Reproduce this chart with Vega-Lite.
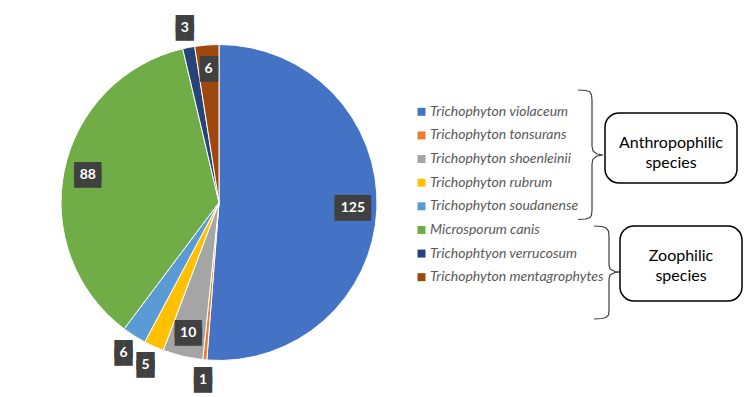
{
  "$schema": "https://vega.github.io/schema/vega-lite/v6.json",
  "padding": {"top": 4, "left": 0, "right": 0, "bottom": 0},
  "bounds": "flush",
  "spacing": 0,
  "config": {"view": {"stroke": null}, "concat": {"spacing": 0}},
  "datasets": {
    "pie": [
      {"species": "Trichophyton violaceum", "count": 125, "n": 1},
      {"species": "Trichophyton tonsurans", "count": 1, "n": 2},
      {"species": "Trichophyton shoenleinii", "count": 10, "n": 3},
      {"species": "Trichophyton rubrum", "count": 5, "n": 4},
      {"species": "Trichophyton soudanense", "count": 6, "n": 5},
      {"species": "Microsporum canis", "count": 88, "n": 6},
      {"species": "Trichophtyon verrucosum", "count": 3, "n": 7},
      {"species": "Trichophyton mentagrophytes", "count": 6, "n": 8}
    ],
    "brackets": [
      {"group": "A", "i": 1, "x": 578, "y": 90},
      {"group": "A", "i": 2, "x": 586, "y": 90.5},
      {"group": "A", "i": 3, "x": 590, "y": 92},
      {"group": "A", "i": 4, "x": 591.5, "y": 95},
      {"group": "A", "i": 5, "x": 592, "y": 100},
      {"group": "A", "i": 6, "x": 592, "y": 146},
      {"group": "A", "i": 7, "x": 593, "y": 151},
      {"group": "A", "i": 8, "x": 597, "y": 154},
      {"group": "A", "i": 9, "x": 603, "y": 155},
      {"group": "A", "i": 10, "x": 597, "y": 156},
      {"group": "A", "i": 11, "x": 593, "y": 159},
      {"group": "A", "i": 12, "x": 592, "y": 164},
      {"group": "A", "i": 13, "x": 592, "y": 210},
      {"group": "A", "i": 14, "x": 591.5, "y": 215},
      {"group": "A", "i": 15, "x": 590, "y": 217.5},
      {"group": "A", "i": 16, "x": 586, "y": 219},
      {"group": "A", "i": 17, "x": 578, "y": 219.5},
      {"group": "Z", "i": 1, "x": 594, "y": 226},
      {"group": "Z", "i": 2, "x": 602, "y": 226.5},
      {"group": "Z", "i": 3, "x": 606, "y": 228},
      {"group": "Z", "i": 4, "x": 608.5, "y": 231},
      {"group": "Z", "i": 5, "x": 609, "y": 236},
      {"group": "Z", "i": 6, "x": 609, "y": 265},
      {"group": "Z", "i": 7, "x": 610, "y": 269},
      {"group": "Z", "i": 8, "x": 615, "y": 271.5},
      {"group": "Z", "i": 9, "x": 623, "y": 272},
      {"group": "Z", "i": 10, "x": 615, "y": 272.5},
      {"group": "Z", "i": 11, "x": 610, "y": 275},
      {"group": "Z", "i": 12, "x": 609, "y": 279},
      {"group": "Z", "i": 13, "x": 609, "y": 310},
      {"group": "Z", "i": 14, "x": 608.5, "y": 315},
      {"group": "Z", "i": 15, "x": 606, "y": 317.5},
      {"group": "Z", "i": 16, "x": 602, "y": 318.5},
      {"group": "Z", "i": 17, "x": 594, "y": 319}
    ],
    "boxes": [
      {"label": "Anthropophilic\nspecies", "x1": 605, "x2": 737, "y1": 113, "y2": 183, "xc": 671, "yc": 143},
      {"label": "Zoophilic\nspecies", "x1": 620, "x2": 742, "y1": 226, "y2": 301, "xc": 681, "yc": 256}
    ]
  },
  "hconcat": [
    {
      "width": 438,
      "height": 397,
      "data": {"name": "pie"},
      "encoding": {
        "theta": {"field": "count", "type": "quantitative", "stack": true},
        "order": {"field": "n", "type": "quantitative"}
      },
      "layer": [
        {
          "mark": {"type": "arc", "radius": 158, "stroke": "#ffffff", "strokeWidth": 1},
          "encoding": {
            "color": {
              "field": "species", "type": "nominal", "legend": null,
              "sort": ["Trichophyton violaceum", "Trichophyton tonsurans", "Trichophyton shoenleinii", "Trichophyton rubrum", "Trichophyton soudanense", "Microsporum canis", "Trichophtyon verrucosum", "Trichophyton mentagrophytes"],
              "scale": {
                "domain": ["Trichophyton violaceum", "Trichophyton tonsurans", "Trichophyton shoenleinii", "Trichophyton rubrum", "Trichophyton soudanense", "Microsporum canis", "Trichophtyon verrucosum", "Trichophyton mentagrophytes"],
                "range": ["#4472C4", "#ED7D31", "#A5A5A5", "#FFC000", "#5B9BD5", "#70AD47", "#264478", "#9E480E"]
              }
            }
          }
        },
        {
          "mark": {"type": "text", "radius": 134, "font": "DejaVu Sans Mono", "fontSize": 15, "color": "#404040", "align": "center", "baseline": "middle", "dy": -4},
          "encoding": {
            "text": {"condition": [
              {"test": "indexof(['Trichophyton violaceum','Trichophyton shoenleinii','Microsporum canis','Trichophyton mentagrophytes'], datum.species) >= 0 && datum.count >= 100", "value": "████"},
              {"test": "indexof(['Trichophyton violaceum','Trichophyton shoenleinii','Microsporum canis','Trichophyton mentagrophytes'], datum.species) >= 0 && datum.count >= 10", "value": "███"},
              {"test": "indexof(['Trichophyton violaceum','Trichophyton shoenleinii','Microsporum canis','Trichophyton mentagrophytes'], datum.species) >= 0", "value": "██"}
            ], "value": ""}
          }
        },
        {
          "mark": {"type": "text", "radius": 134, "font": "DejaVu Sans Mono", "fontSize": 15, "color": "#404040", "align": "center", "baseline": "middle", "dy": 4},
          "encoding": {
            "text": {"condition": [
              {"test": "indexof(['Trichophyton violaceum','Trichophyton shoenleinii','Microsporum canis','Trichophyton mentagrophytes'], datum.species) >= 0 && datum.count >= 100", "value": "████"},
              {"test": "indexof(['Trichophyton violaceum','Trichophyton shoenleinii','Microsporum canis','Trichophyton mentagrophytes'], datum.species) >= 0 && datum.count >= 10", "value": "███"},
              {"test": "indexof(['Trichophyton violaceum','Trichophyton shoenleinii','Microsporum canis','Trichophyton mentagrophytes'], datum.species) >= 0", "value": "██"}
            ], "value": ""}
          }
        },
        {
          "mark": {"type": "text", "radius": 178, "font": "DejaVu Sans Mono", "fontSize": 15, "color": "#404040", "align": "center", "baseline": "middle", "dy": -4},
          "encoding": {
            "text": {"condition": [
              {"test": "indexof(['Trichophyton violaceum','Trichophyton shoenleinii','Microsporum canis','Trichophyton mentagrophytes'], datum.species) < 0", "value": "██"}
            ], "value": ""}
          }
        },
        {
          "mark": {"type": "text", "radius": 178, "font": "DejaVu Sans Mono", "fontSize": 15, "color": "#404040", "align": "center", "baseline": "middle", "dy": 4},
          "encoding": {
            "text": {"condition": [
              {"test": "indexof(['Trichophyton violaceum','Trichophyton shoenleinii','Microsporum canis','Trichophyton mentagrophytes'], datum.species) < 0", "value": "██"}
            ], "value": ""}
          }
        },
        {
          "mark": {"type": "text", "radius": 134, "font": "Lato", "fontWeight": "bold", "fontSize": 14, "color": "#ffffff", "align": "center", "baseline": "middle"},
          "encoding": {
            "text": {"condition": {"test": "indexof(['Trichophyton violaceum','Trichophyton shoenleinii','Microsporum canis','Trichophyton mentagrophytes'], datum.species) >= 0", "field": "count", "type": "nominal"}, "value": ""}
          }
        },
        {
          "mark": {"type": "text", "radius": 178, "font": "Lato", "fontWeight": "bold", "fontSize": 14, "color": "#ffffff", "align": "center", "baseline": "middle"},
          "encoding": {
            "text": {"condition": {"test": "indexof(['Trichophyton violaceum','Trichophyton shoenleinii','Microsporum canis','Trichophyton mentagrophytes'], datum.species) < 0", "field": "count", "type": "nominal"}, "value": ""}
          }
        }
      ]
    },
    {
      "width": 312,
      "height": 397,
      "resolve": {"scale": {"y": "independent"}},
      "layer": [
        {
          "data": {"name": "pie"},
          "mark": {"type": "square", "size": 64, "opacity": 1, "filled": true},
          "encoding": {
            "x": {"datum": 421.5, "type": "quantitative", "scale": {"domain": [438, 750], "nice": false, "zero": false}, "axis": null},
            "y": {"field": "species", "type": "nominal", "axis": null,
              "scale": {"domain": ["Trichophyton violaceum", "Trichophyton tonsurans", "Trichophyton shoenleinii", "Trichophyton rubrum", "Trichophyton soudanense", "Microsporum canis", "Trichophtyon verrucosum", "Trichophyton mentagrophytes"], "range": [96, 285]}},
            "color": {
              "field": "species", "type": "nominal", "legend": null,
              "scale": {
                "domain": ["Trichophyton violaceum", "Trichophyton tonsurans", "Trichophyton shoenleinii", "Trichophyton rubrum", "Trichophyton soudanense", "Microsporum canis", "Trichophtyon verrucosum", "Trichophyton mentagrophytes"],
                "range": ["#4472C4", "#ED7D31", "#A5A5A5", "#FFC000", "#5B9BD5", "#70AD47", "#264478", "#9E480E"]
              }
            }
          }
        },
        {
          "data": {"name": "pie"},
          "mark": {"type": "text", "align": "left", "baseline": "middle", "font": "Lato", "fontStyle": "italic", "fontSize": 14, "color": "#595959"},
          "encoding": {
            "x": {"datum": 430, "type": "quantitative", "axis": null},
            "y": {"field": "species", "type": "nominal", "axis": null,
              "scale": {"domain": ["Trichophyton violaceum", "Trichophyton tonsurans", "Trichophyton shoenleinii", "Trichophyton rubrum", "Trichophyton soudanense", "Microsporum canis", "Trichophtyon verrucosum", "Trichophyton mentagrophytes"], "range": [96, 285]}},
            "text": {"field": "species", "type": "nominal"}
          }
        },
        {
          "data": {"name": "brackets"},
          "mark": {"type": "line", "color": "#404040", "strokeWidth": 1.2},
          "encoding": {
            "x": {"field": "x", "type": "quantitative", "axis": null},
            "y": {"field": "y", "type": "quantitative", "axis": null, "scale": {"domain": [4, 401], "reverse": true, "nice": false, "zero": false}},
            "detail": {"field": "group", "type": "nominal"},
            "order": {"field": "i", "type": "quantitative"}
          }
        },
        {
          "data": {"name": "boxes"},
          "mark": {"type": "rect", "cornerRadius": 14, "fill": "#ffffff", "stroke": "#000000", "strokeWidth": 1.5},
          "encoding": {
            "x": {"field": "x1", "type": "quantitative", "axis": null},
            "x2": {"field": "x2"},
            "y": {"field": "y1", "type": "quantitative", "axis": null, "scale": {"domain": [4, 401], "reverse": true, "nice": false, "zero": false}},
            "y2": {"field": "y2"}
          }
        },
        {
          "data": {"name": "boxes"},
          "mark": {"type": "text", "font": "Lato", "fontSize": 16, "lineBreak": "\n", "lineHeight": 20, "align": "center", "baseline": "middle", "color": "#000000"},
          "encoding": {
            "x": {"field": "xc", "type": "quantitative", "axis": null},
            "y": {"field": "yc", "type": "quantitative", "axis": null, "scale": {"domain": [4, 401], "reverse": true, "nice": false, "zero": false}},
            "text": {"field": "label", "type": "nominal"}
          }
        }
      ]
    }
  ]
}
